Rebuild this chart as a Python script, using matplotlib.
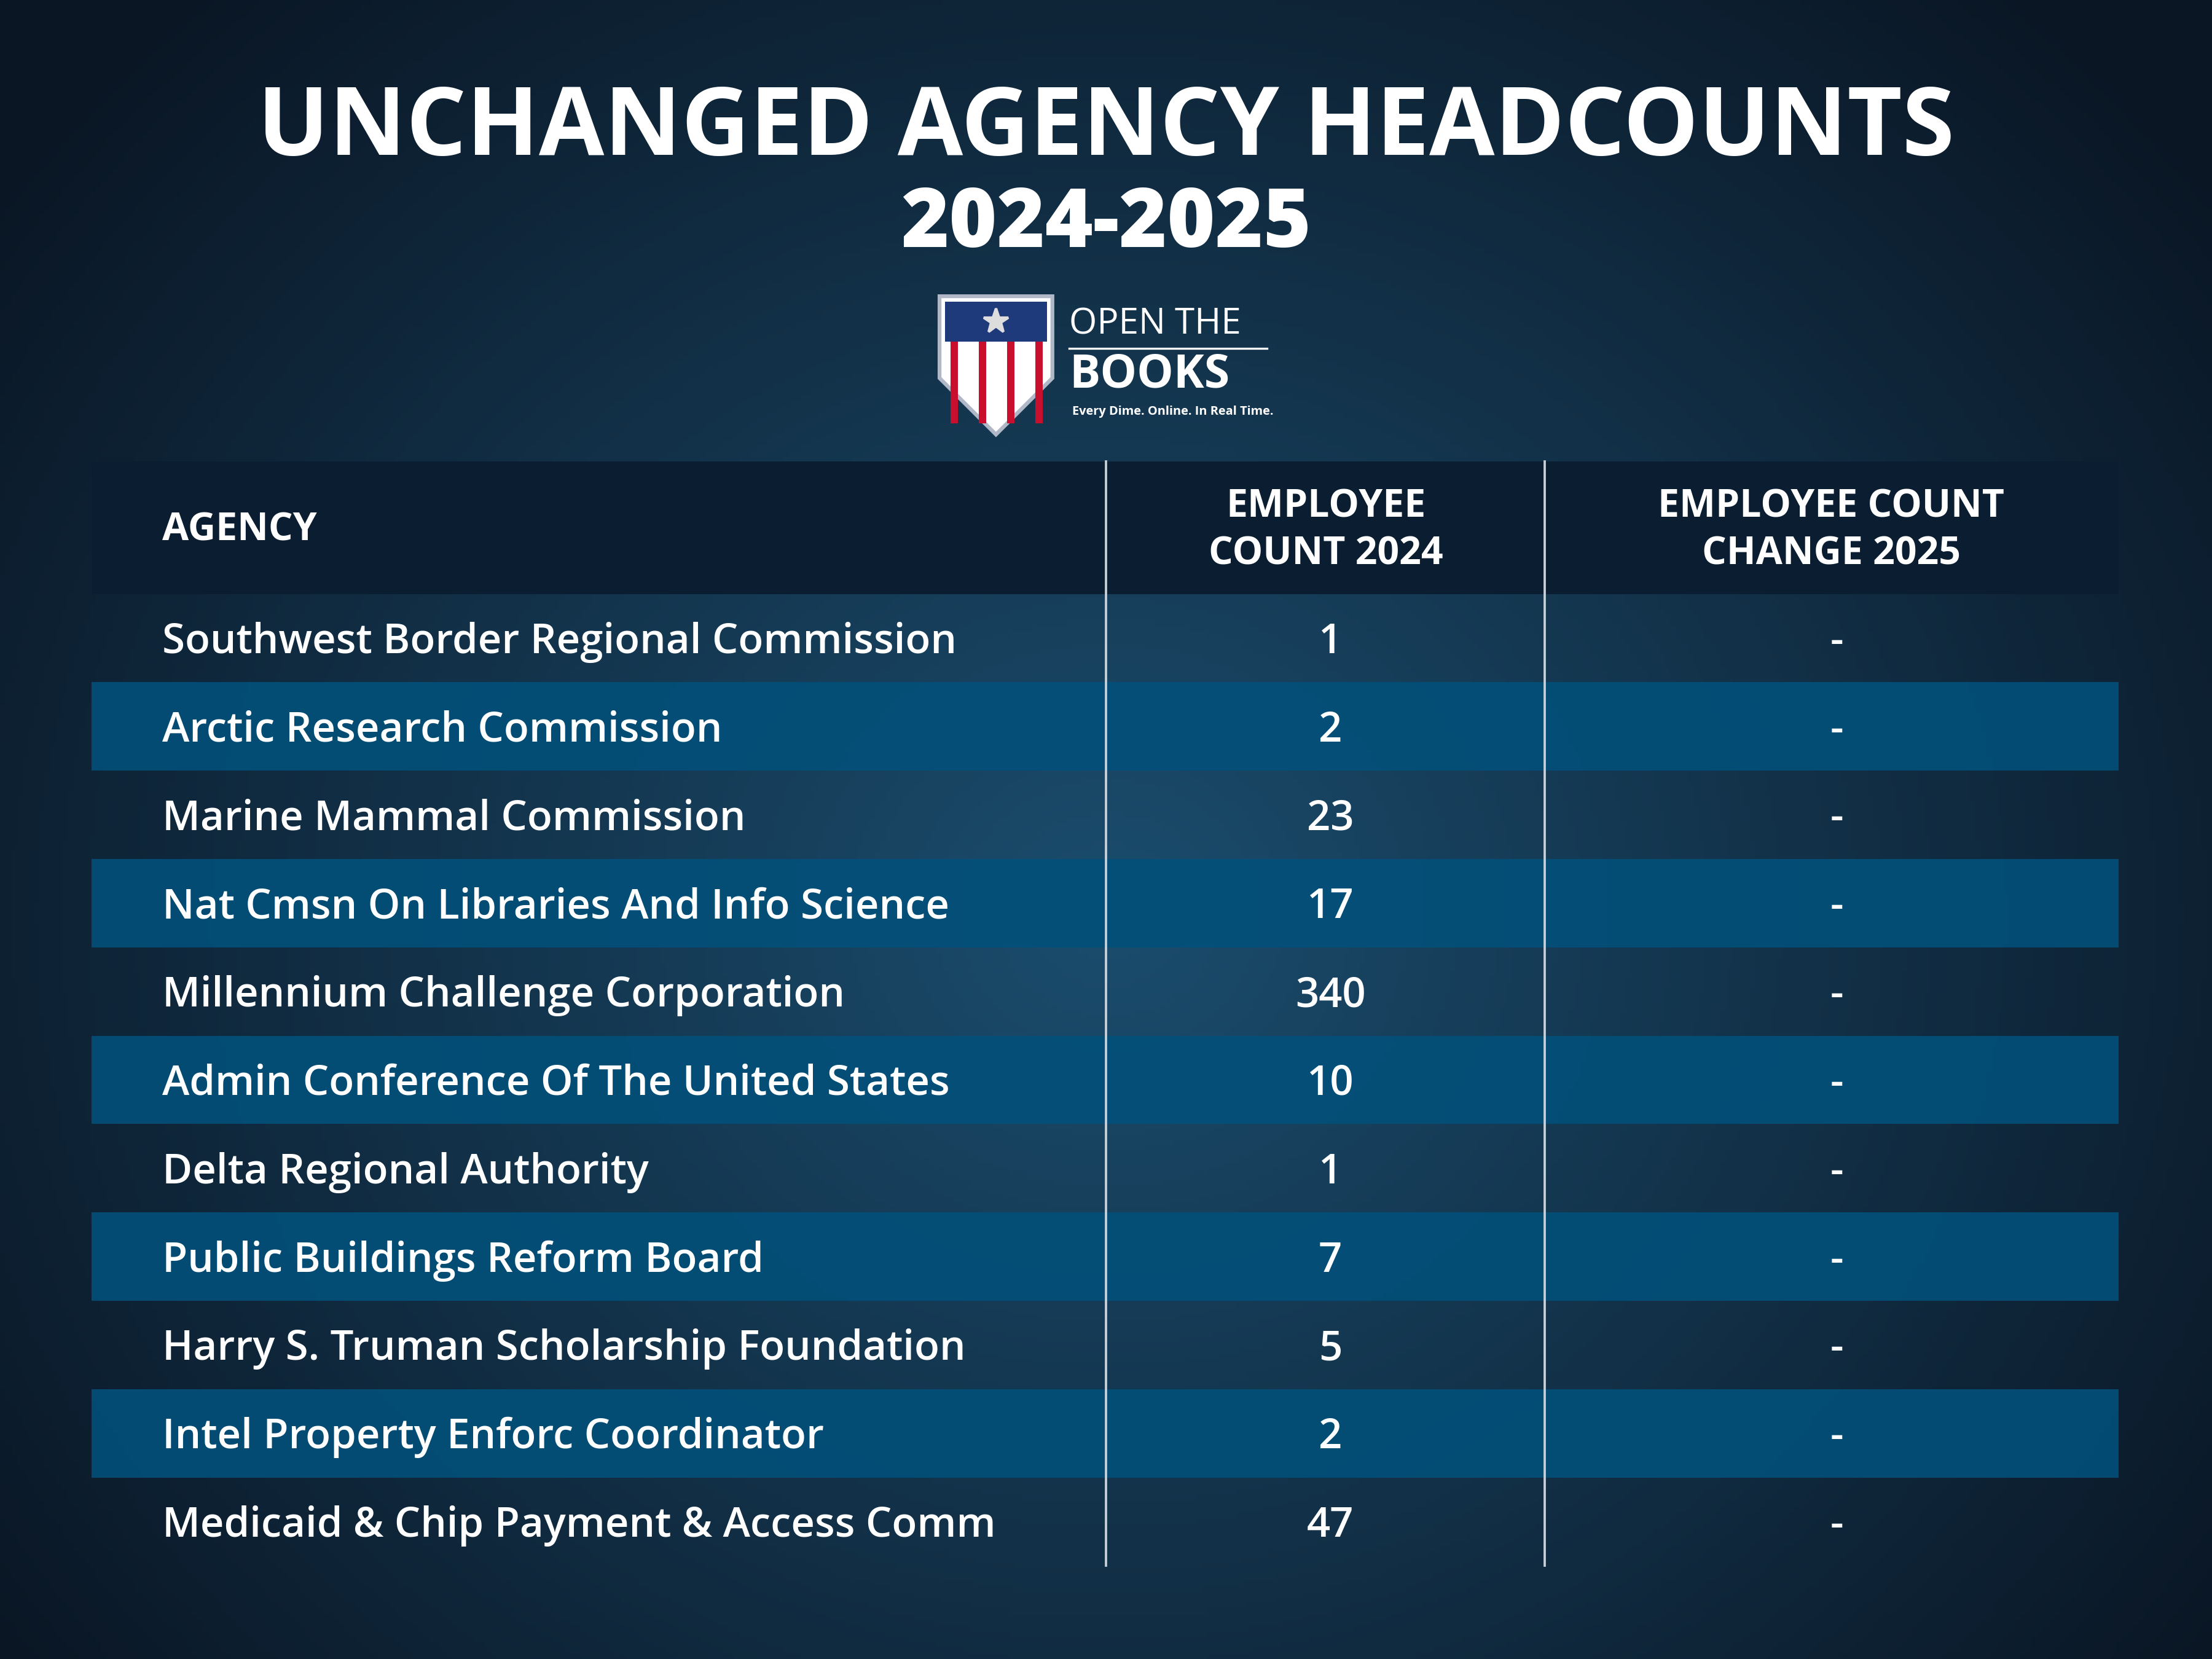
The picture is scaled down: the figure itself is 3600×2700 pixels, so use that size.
import numpy as np
import matplotlib
matplotlib.use("Agg")
import matplotlib.pyplot as plt
from matplotlib.patches import Rectangle, Polygon

agencies = ["Southwest Border Regional Commission", "Arctic Research Commission",
            "Marine Mammal Commission", "Nat Cmsn On Libraries And Info Science",
            "Millennium Challenge Corporation", "Admin Conference Of The United States",
            "Delta Regional Authority", "Public Buildings Reform Board",
            "Harry S. Truman Scholarship Foundation", "Intel Property Enforc Coordinator",
            "Medicaid & Chip Payment & Access Comm"]
count_2024 = [1, 2, 23, 17, 340, 10, 1, 7, 5, 2, 47]
change_2025 = ["-"] * 11
headers = ["AGENCY", "EMPLOYEE\nCOUNT 2024", "EMPLOYEE COUNT\nCHANGE 2025"]

W, H = 1568, 1176
fig = plt.figure(figsize=(12, 9), dpi=300)
ax = fig.add_axes([0, 0, 1, 1])
ax.set_xlim(0, W); ax.set_ylim(H, 0); ax.axis("off")

# radial gradient background
yy, xx = np.mgrid[0:H:4, 0:W:4]
r = np.sqrt(((xx - W/2)/(W*0.62))**2 + ((yy - H*0.55)/(H*0.75))**2)
r = np.clip(r, 0, 1)
c_in = np.array([0x1b, 0x4d, 0x6e])/255
c_out = np.array([0x0a, 0x16, 0x24])/255
img = c_in[None, None, :]*(1-r[..., None]) + c_out[None, None, :]*r[..., None]
ax.imshow(img, extent=[0, W, H, 0], zorder=0, aspect="auto")

font = "Open Sans"
ax.text(W/2, 92, "UNCHANGED AGENCY HEADCOUNTS", color="white", fontsize=37,
        fontweight="bold", ha="center", va="center", family=font, zorder=5)
ax.text(W/2, 160, "2024-2025", color="white", fontsize=32,
        fontweight="heavy", ha="center", va="center", family=font, zorder=5)

# logo
sx, sy = 706, 258
shield = [(-40, -48), (40, -48), (40, 10), (0, 50), (-40, 10)]
ax.add_patch(Polygon([(sx+a, sy+b) for a, b in shield], closed=True,
                     facecolor="white", edgecolor="#b0b8c8", lw=1.5, zorder=5))
for i, xo in enumerate(range(-32, 34, 10)):
    if i % 2 == 0:
        ax.add_patch(Rectangle((sx+xo, sy-18), 5, 60, facecolor="#c8102e", zorder=6))
ax.add_patch(Rectangle((sx-36, sy-44), 72, 28, facecolor="#1f3a7a", zorder=7))
ax.plot(sx, sy-30, marker="*", color="#dddddd", ms=10, zorder=8)
ax.text(758, 230, "OPEN THE", color="white", fontsize=14, ha="left", va="center", family=font, zorder=5)
ax.plot([758, 898], [247, 247], color="white", lw=0.8, zorder=5)
ax.text(758, 266, "BOOKS", color="white", fontsize=18, fontweight="bold", ha="left", va="center", family=font, zorder=5)
ax.text(760, 292, "Every Dime. Online. In Real Time.", color="white", fontsize=4.8, fontweight="bold", ha="left", va="center", family=font, zorder=5)

# table
x0, x1 = 65, 1502
v1, v2 = 784, 1095
hy0, hy1 = 327, 421
rh = (1110 - hy1) / len(agencies)
ax.add_patch(Rectangle((x0, hy0), x1-x0, hy1-hy0, facecolor="#0b1d31", zorder=2))
for i in range(len(agencies)):
    y = hy1 + i*rh
    if i % 2 == 1:
        ax.add_patch(Rectangle((x0, y), x1-x0, rh, facecolor="#02507a", alpha=0.9, zorder=2))
    yc = y + rh/2 + 3
    ax.text(115, yc, agencies[i], color="white", fontsize=16.1, fontweight="semibold", ha="left", va="center", family=font, zorder=5)
    ax.text((v1+1102)/2, yc, str(count_2024[i]), color="white", fontsize=16.1, fontweight="semibold", ha="center", va="center", family=font, zorder=5)
    ax.text(1302, yc, change_2025[i], color="white", fontsize=16.1, fontweight="semibold", ha="center", va="center", family=font, zorder=5)

hc = (hy0+hy1)/2 + 2
ax.text(115, hc, headers[0], color="white", fontsize=15, fontweight="bold", ha="left", va="center", family=font, zorder=5)
ax.text(940, hc, headers[1], color="white", fontsize=15, fontweight="bold", ha="center", va="center", family=font, linespacing=1.3, zorder=5)
ax.text(1298, hc, headers[2], color="white", fontsize=15, fontweight="bold", ha="center", va="center", family=font, linespacing=1.3, zorder=5)
for v in (v1, v2):
    ax.plot([v, v], [hy0, 1110], color="#c8d0da", lw=0.9, zorder=6)

fig.savefig("out.png", dpi=300)
